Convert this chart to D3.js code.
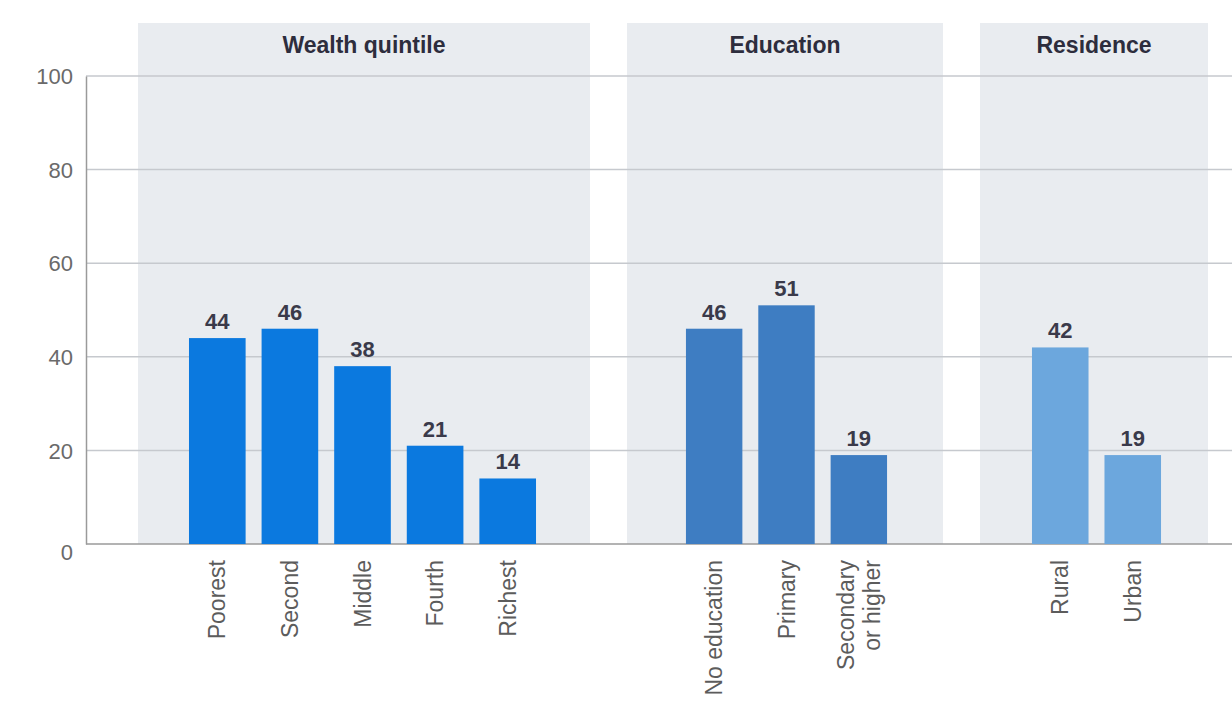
<!DOCTYPE html>
<html>
<head>
<meta charset="utf-8">
<script src="https://cdn.jsdelivr.net/npm/d3@7"></script>
<style>
  html, body { margin: 0; padding: 0; background: #ffffff; }
  svg { display: block; font-family: "Liberation Sans", Arial, sans-serif; }
</style>
</head>
<body>
<svg id="chart" width="1232" height="702"></svg>
<script>
// Percentages by background characteristic
const groupNames = ["Wealth quintile", "Education", "Residence"];
const wealthCategories = ["Poorest", "Second", "Middle", "Fourth", "Richest"];
const wealthValues = [44, 46, 38, 21, 14];
const educationCategories = ["No education", "Primary", "Secondary\nor higher"];
const educationValues = [46, 51, 19];
const residenceCategories = ["Rural", "Urban"];
const residenceValues = [42, 19];
const yTicks = [0, 20, 40, 60, 80, 100];

const groups = [
  { name: groupNames[0], cats: wealthCategories, vals: wealthValues, color: "#0b79df",
    panel: [138, 590], bars: [181, 544] },
  { name: groupNames[1], cats: educationCategories, vals: educationValues, color: "#3e7dc2",
    panel: [627, 943], bars: [678, 895] },
  { name: groupNames[2], cats: residenceCategories, vals: residenceValues, color: "#6ca7dd",
    panel: [980, 1208], bars: [1024, 1169] }
];

const svg = d3.select("#chart");
const axisX = 86, plotRight = 1232, panelTop = 23;

const y = d3.scaleLinear().domain([0, 100]).range([544, 76]);

// panel backgrounds
svg.append("g").selectAll("rect").data(groups).join("rect")
  .attr("x", d => d.panel[0])
  .attr("y", panelTop)
  .attr("width", d => d.panel[1] - d.panel[0])
  .attr("height", y(0) - panelTop)
  .attr("fill", "#e9ecf0");

// horizontal gridlines
svg.append("g").selectAll("line").data(yTicks.filter(t => t > 0)).join("line")
  .attr("x1", axisX).attr("x2", plotRight)
  .attr("y1", d => y(d)).attr("y2", d => y(d))
  .attr("stroke", "#c6c9ce").attr("stroke-width", 1.5);

// y axis
const yAxis = d3.axisLeft(y).tickValues(yTicks).tickSize(0).tickPadding(13);
const gy = svg.append("g").attr("transform", `translate(${axisX},0)`).call(yAxis);
gy.select(".domain").attr("stroke", "#9a9a9a").attr("stroke-width", 1.5);
gy.selectAll("text")
  .attr("font-size", 22)
  .attr("fill", "#6a6a6a")
  .attr("font-family", "Liberation Sans, Arial, sans-serif")
  .attr("dy", d => d === 0 ? "0.7em" : "0.35em");

// baseline
svg.append("line")
  .attr("x1", axisX).attr("x2", plotRight)
  .attr("y1", y(0)).attr("y2", y(0))
  .attr("stroke", "#9a9a9a").attr("stroke-width", 1.5);

groups.forEach(g => {
  const x = d3.scaleBand().domain(g.cats).range(g.bars)
    .paddingInner(0.22).paddingOuter(0.11);
  const data = g.cats.map((c, i) => ({ cat: c, val: g.vals[i] }));
  const layer = svg.append("g");

  // panel title
  layer.append("text")
    .attr("x", (g.panel[0] + g.panel[1]) / 2)
    .attr("y", 53)
    .attr("text-anchor", "middle")
    .attr("font-size", 23)
    .attr("font-weight", "bold")
    .attr("fill", "#2d2d3d")
    .text(g.name);

  // bars
  layer.selectAll("rect.bar").data(data).join("rect")
    .attr("class", "bar")
    .attr("x", d => x(d.cat))
    .attr("y", d => y(d.val))
    .attr("width", x.bandwidth())
    .attr("height", d => y(0) - y(d.val))
    .attr("fill", g.color);

  // value labels
  layer.selectAll("text.val").data(data).join("text")
    .attr("class", "val")
    .attr("x", d => x(d.cat) + x.bandwidth() / 2)
    .attr("y", d => y(d.val) - 9)
    .attr("text-anchor", "middle")
    .attr("font-size", 22)
    .attr("font-weight", "bold")
    .attr("fill", "#3a3a4a")
    .text(d => d.val);

  // rotated category labels
  const cl = layer.selectAll("text.cat").data(data).join("text")
    .attr("class", "cat")
    .attr("transform", d => `translate(${x(d.cat) + x.bandwidth() / 2},${y(0) + 16}) rotate(-90)`)
    .attr("text-anchor", "end")
    .attr("font-size", 23)
    .attr("fill", "#5c5c5c");
  cl.each(function(d) {
    const lines = d.cat.split("\n");
    const t = d3.select(this);
    lines.forEach((ln, i) => {
      t.append("tspan")
        .attr("x", 0)
        .attr("dy", i === 0 ? (lines.length === 1 ? "0.35em" : "-0.2em") : "1.1em")
        .text(ln);
    });
  });
});
</script>
</body>
</html>
